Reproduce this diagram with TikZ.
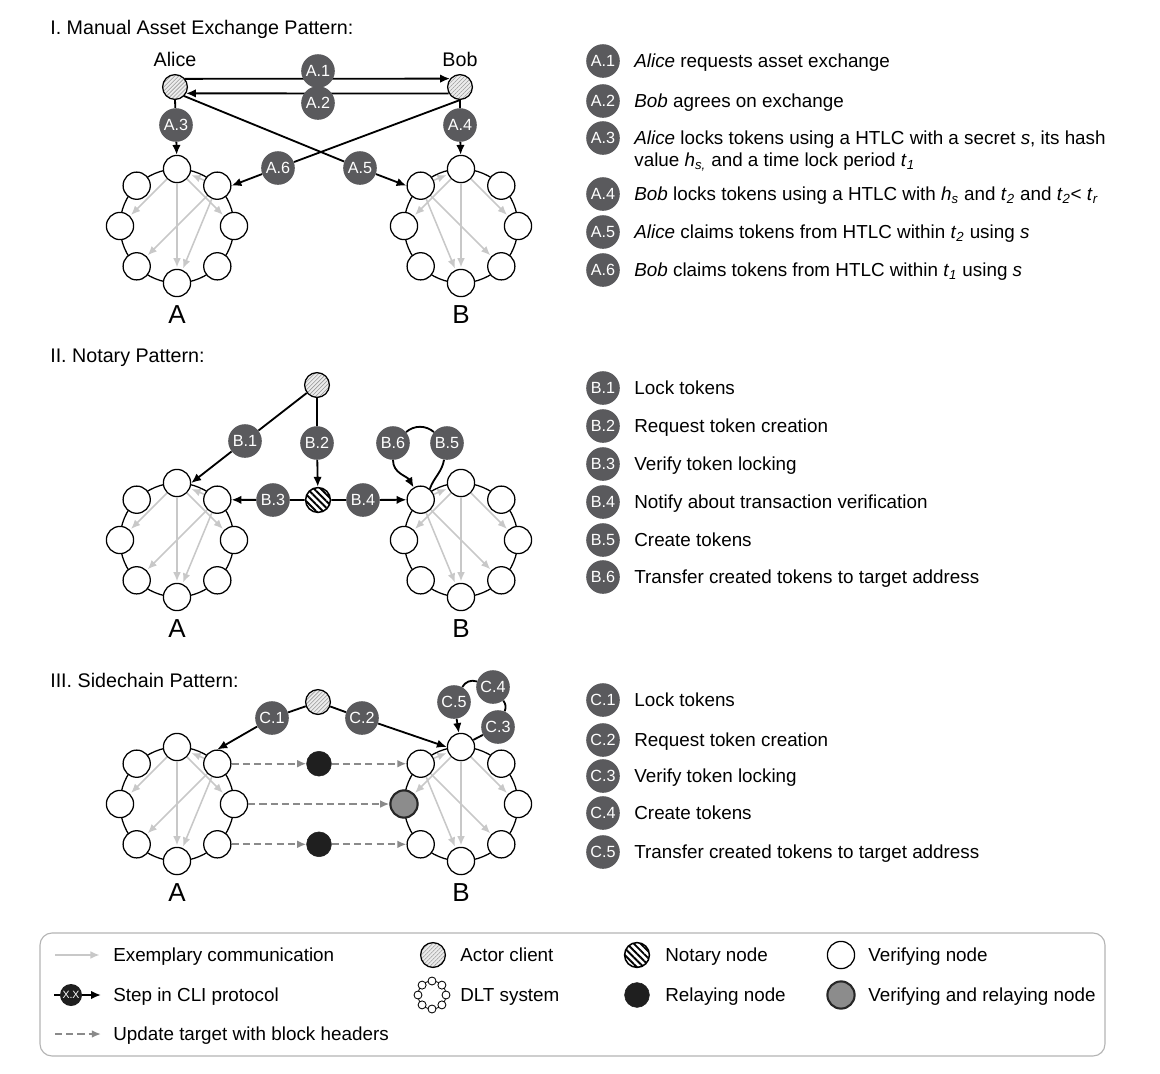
\documentclass[tikz,border=0pt]{standalone}
\usepackage{fontspec}
\setmainfont{Liberation Sans}
\usetikzlibrary{positioning, calc, arrows.meta, patterns.meta}

\definecolor{stepgray}{HTML}{5A5A5D}
\definecolor{commgray}{HTML}{C8C8C8}
\definecolor{dashgray}{HTML}{8A8A8A}
\definecolor{vrgray}{HTML}{8C8C8C}
\definecolor{boxgray}{HTML}{B4B4B4}

\newcommand{\itsub}[2]{\textit{#1}\textsubscript{\textit{#2}}}

% one DLT system: ring of eight verifying nodes
\newcommand{\dltring}[4]{%
  \draw[ringline] (#2,#3) circle[radius=1.425cm];
  \foreach \k/\ang in {1/-90,2/-45,3/0,4/45,5/90,6/135,7/180,8/-135}
    \node[vnode] (#1-\k) at ($(#2,#3)+(\ang:57)$) {};
  \node[netname] (#1-name) at (#2,#3+89) {#4};
}
% exemplary communication inside the rings
\newcommand{\commleft}[1]{%
  \foreach \s/\t in {1/7,1/3,1/5,2/1,2/6,2/5}
    \draw[commarrow] (#1-\s) -- (#1-\t);
}
\newcommand{\commright}[1]{%
  \foreach \s/\t in {8/1,1/7,1/5,1/3,8/5,8/4}
    \draw[commarrow] (#1-\s) -- (#1-\t);
}

\tikzset{
  vnode/.style={circle, draw, line width=0.9pt, fill=white, minimum size=0.68cm, inner sep=0},
  actor/.style={circle, draw, line width=0.9pt, minimum size=0.62cm, inner sep=0,
    preaction={fill=gray!15}, pattern={Lines[angle=45,distance=2pt,line width=0.4pt]}, pattern color=gray!80},
  notary/.style={circle, draw, line width=1.1pt, minimum size=0.62cm, inner sep=0,
    preaction={fill=white}, pattern={Lines[angle=-45,distance=3.4pt,line width=1.3pt]}, pattern color=black},
  relay/.style={circle, fill=black!88, draw=black!88, minimum size=0.62cm, inner sep=0},
  vrnode/.style={circle, draw=black!85, line width=1.5pt, fill=vrgray, minimum size=0.68cm, inner sep=0},
  stepnode/.style={circle, fill=stepgray, text=white, minimum size=0.84cm, inner sep=0, font=\fontsize{11.5}{12}\selectfont},
  steparrow/.style={line width=1.3pt, -{Latex[length=7pt,width=6pt]}},
  stepline/.style={line width=1.3pt},
  commarrow/.style={commgray, line width=1.1pt, -{Latex[length=6.5pt,width=5.5pt]}, shorten >=1pt},
  headerarrow/.style={dashgray, line width=1.3pt, dash pattern=on 5pt off 3pt, -{Latex[length=6.5pt,width=5.5pt]}},
  ringline/.style={line width=0.9pt},
  descr/.style={inner sep=0, anchor=west, text height=9.6pt, text depth=0pt},
  netname/.style={font=\fontsize{18.5}{20}\selectfont},
  title/.style={anchor=west, inner sep=0, font=\fontsize{14}{16}\selectfont},
  legbox/.style={draw=boxgray, line width=0.8pt, rounded corners=0.3cm},
  legstep/.style={circle, fill=black!88, text=white, minimum size=0.55cm, inner sep=0, font=\fontsize{7.5}{8}\selectfont},
  tinynode/.style={circle, draw, line width=0.6pt, fill=white, minimum size=0.2cm, inner sep=0},
}

\begin{document}
\begin{tikzpicture}[x=0.025cm, y=-0.025cm, font=\fontsize{13.4}{16}\selectfont]
\useasboundingbox (0,0) rectangle (1160,1074);

% I. Manual asset exchange
\node[title] (title1) at (50,29) {I. Manual Asset Exchange Pattern:};
\node[actor] (alice) at (175,87) {};
\node[actor] (bob) at (460,87) {};
\node[above=5pt of alice, inner sep=0, font=\fontsize{14}{16}\selectfont] (alicename) {Alice};
\node[above=5pt of bob, inner sep=0, font=\fontsize{14}{16}\selectfont] (bobname) {Bob};
\dltring{netA1}{177}{226}{A}
\dltring{netB1}{461}{226}{B}
\commleft{netA1}
\commright{netB1}

\draw[steparrow] (alice.40) -- (bob.140);
\draw[steparrow] (bob.-150) -- (alice.-30);
\node[stepnode] (sa1) at (318,71) {A.1};
\node[stepnode] (sa2) at (318,103) {A.2};
\node[stepnode] (sa3) at (176,125) {A.3};
\node[stepnode] (sa4) at (460,125) {A.4};
\node[stepnode] (sa5) at (360,168) {A.5};
\node[stepnode] (sa6) at (278,168) {A.6};
\draw[steparrow] (alice.south) -- (sa3) -- (netA1-1);
\draw[steparrow] (bob.south) -- (sa4) -- (netB1-1);
\draw[steparrow] (alice.-45) -- (sa5) -- (netB1-8.west);
\draw[steparrow] (bob.south) -- (sa6) -- (netA1-2.east);

% II. Notary
\node[title] (title2) at (50,358) {II. Notary Pattern:};
\node[actor] (client2) at (317,385) {};
\dltring{netA2}{177}{540}{A}
\dltring{netB2}{461}{540}{B}
\commleft{netA2}
\commright{netB2}
\node[notary] (notary) at (318,500) {};
\node[stepnode] (sb1) at (245,441) {B.1};
\node[stepnode] (sb2) at (317,443) {B.2};
\node[stepnode] (sb3) at (273,500) {B.3};
\node[stepnode] (sb4) at (363,500) {B.4};
\node[stepnode] (sb5) at (447,443) {B.5};
\node[stepnode] (sb6) at (393,443) {B.6};
\draw[steparrow] (client2) -- (sb1) -- (netA2-1.east);
\draw[steparrow] (client2) -- (sb2) -- (notary);
\draw[steparrow] (notary) -- (sb3) -- (netA2-2);
\draw[steparrow] (notary) -- (sb4) -- (netB2-8);
\draw[stepline] (netB2-8.50) to[out=70,in=-100] (sb5);
\draw[stepline] (sb5) to[bend right=40] (sb6);
\draw[steparrow] (sb6) to[out=-90,in=120] (netB2-8);

% III. Sidechain
\node[title] (title3) at (50,680) {III. Sidechain Pattern:};
\node[actor] (client3) at (318,702) {};
\dltring{netA3}{177}{804}{A}
\dltring{netB3}{461}{804}{B}
\node[vrnode] (verrelay) at (netB3-7) {};
\commleft{netA3}
\commright{netB3}
\node[relay] (relay1) at ($(netA3-2)!0.5!(netB3-8)$) {};
\node[relay] (relay2) at ($(netA3-4)!0.5!(netB3-6)$) {};
\draw[headerarrow] (netA3-2) -- (relay1);
\draw[headerarrow] (relay1) -- (netB3-8);
\draw[headerarrow] (netA3-3) -- (verrelay);
\draw[headerarrow] (netA3-4) -- (relay2);
\draw[headerarrow] (relay2) -- (netB3-6);
\node[stepnode] (sc1) at (272,718) {C.1};
\node[stepnode] (sc2) at (362,718) {C.2};
\node[stepnode] (sc3) at (498,727) {C.3};
\node[stepnode] (sc4) at (493,687) {C.4};
\node[stepnode] (sc5) at (454,702) {C.5};
\draw[steparrow] (client3) -- (sc1) -- (netA3-2.north);
\draw[steparrow] (client3) -- (sc2) -- (netB3-1.west);
\draw[stepline] (netB3-1.30) -- (sc3);
\draw[stepline] (sc3) to[bend right=30] (sc4);
\draw[stepline] (sc4) to[bend right=40] (sc5);
\draw[steparrow] (sc5) -- (netB3-1);

% step descriptions
\node[stepnode] (ka1) at (603,61) {A.1};
\node[descr, right=0.35cm of ka1] (ta1) {\textit{Alice} requests asset exchange};
\node[stepnode] (ka2) at (603,101) {A.2};
\node[descr, right=0.35cm of ka2] (ta2) {\textit{Bob} agrees on exchange};
\node[stepnode] (ka3) at (603,138) {A.3};
\node[descr, right=0.35cm of ka3] (ta3) {\textit{Alice} locks tokens using a HTLC with a secret \textit{s}, its hash};
\node[descr] (ta3b) at ($(ta3.west)+(0,22)$) {value \itsub{h}{s,} and a time lock period \itsub{t}{1}};
\node[stepnode] (ka4) at (603,194) {A.4};
\node[descr, right=0.35cm of ka4] (ta4) {\textit{Bob} locks tokens using a HTLC with \itsub{h}{s} and \itsub{t}{2} and \itsub{t}{2}< \itsub{t}{r}};
\node[stepnode] (ka5) at (603,232) {A.5};
\node[descr, right=0.35cm of ka5] (ta5) {\textit{Alice} claims tokens from HTLC within \itsub{t}{2} using \textit{s}};
\node[stepnode] (ka6) at (603,270) {A.6};
\node[descr, right=0.35cm of ka6] (ta6) {\textit{Bob} claims tokens from HTLC within \itsub{t}{1} using \textit{s}};

\node[stepnode] (kb1) at (603,388) {B.1};
\node[descr, right=0.35cm of kb1] (tb1) {Lock tokens};
\node[stepnode] (kb2) at (603,426) {B.2};
\node[descr, right=0.35cm of kb2] (tb2) {Request token creation};
\node[stepnode] (kb3) at (603,464) {B.3};
\node[descr, right=0.35cm of kb3] (tb3) {Verify token locking};
\node[stepnode] (kb4) at (603,502) {B.4};
\node[descr, right=0.35cm of kb4] (tb4) {Notify about transaction verification};
\node[stepnode] (kb5) at (603,540) {B.5};
\node[descr, right=0.35cm of kb5] (tb5) {Create tokens};
\node[stepnode] (kb6) at (603,577) {B.6};
\node[descr, right=0.35cm of kb6] (tb6) {Transfer created tokens to target address};

\node[stepnode] (kc1) at (603,700) {C.1};
\node[descr, right=0.35cm of kc1] (tc1) {Lock tokens};
\node[stepnode] (kc2) at (603,740) {C.2};
\node[descr, right=0.35cm of kc2] (tc2) {Request token creation};
\node[stepnode] (kc3) at (603,776) {C.3};
\node[descr, right=0.35cm of kc3] (tc3) {Verify token locking};
\node[stepnode] (kc4) at (603,813) {C.4};
\node[descr, right=0.35cm of kc4] (tc4) {Create tokens};
\node[stepnode] (kc5) at (603,852) {C.5};
\node[descr, right=0.35cm of kc5] (tc5) {Transfer created tokens to target address};

% legend
\draw[legbox] (40,933) rectangle (1105,1056);
\coordinate (lg-c0) at (55,955);
\coordinate (lg-c1) at (101,955);
\draw[commarrow] (lg-c0) -- (lg-c1);
\node[descr] (lg-ctext) at (113,955) {Exemplary communication};
\coordinate (lg-s0) at (54,995);
\node[legstep] (lg-step) at (71,995) {X.X};
\coordinate (lg-s1) at (101,995);
\draw[stepline] (lg-s0) -- (lg-step);
\draw[steparrow] (lg-step) -- (lg-s1);
\node[descr] (lg-stext) at (113,995) {Step in CLI protocol};
\coordinate (lg-d0) at (55,1034);
\coordinate (lg-d1) at (101,1034);
\draw[headerarrow] (lg-d0) -- (lg-d1);
\node[descr] (lg-dtext) at (113,1034) {Update target with block headers};

\node[actor] (lg-actor) at (433,955) {};
\node[descr] (lg-atext) at (460,955) {Actor client};
\coordinate (lg-dlt) at (432,995);
\draw[line width=0.6pt] (lg-dlt) circle[radius=0.35cm];
\foreach \ang in {0,45,...,315}
  \node[tinynode] (lg-dlt-\ang) at ($(lg-dlt)+(\ang:14)$) {};
\node[descr] (lg-ltext) at (460,995) {DLT system};

\node[notary] (lg-notary) at (637,955) {};
\node[descr] (lg-ntext) at (665,955) {Notary node};
\node[relay] (lg-relay) at (637,995) {};
\node[descr] (lg-rtext) at (665,995) {Relaying node};

\node[vnode] (lg-verif) at (841,955) {};
\node[descr] (lg-vtext) at (868,955) {Verifying node};
\node[vrnode] (lg-vr) at (841,995) {};
\node[descr] (lg-vrtext) at (868,995) {Verifying and relaying node};
\end{tikzpicture}
\end{document}
